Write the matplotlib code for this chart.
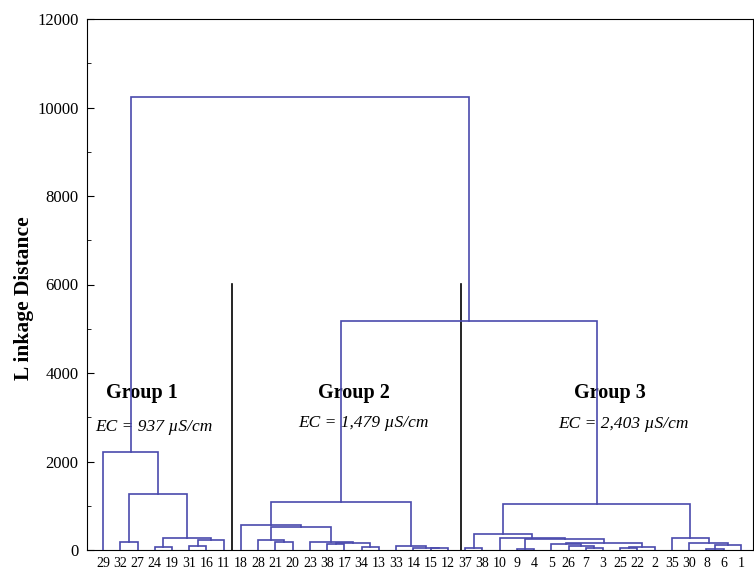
import matplotlib.pyplot as plt
from matplotlib.ticker import MultipleLocator

plt.rcParams['font.family'] = ['Liberation Serif', 'DejaVu Serif']

# leaf labels in the order they appear along the x axis
leaf_labels = ['29', '32', '27', '24', '19', '31', '16', '11',
               '18', '28', '21', '20', '23', '38', '17', '34', '13', '33', '14', '15', '12',
               '37', '38', '10', '9', '4', '5', '26', '7', '3', '25', '22', '2',
               '35', '30', '8', '6', '1']

# merges: (left, right, linkage distance)
# index < 38 -> leaf position, index >= 38 -> earlier merge (38 + k)
merges = [
    # group 1
    (3, 4, 75), (5, 6, 80), (39, 7, 226), (1, 2, 180), (38, 40, 264),
    (41, 42, 1275), (0, 43, 2210),
    # group 2
    (10, 11, 190), (9, 45, 215), (13, 14, 125), (15, 16, 60), (47, 48, 155),
    (12, 49, 190), (46, 50, 530), (8, 51, 565), (19, 20, 35), (18, 53, 55),
    (17, 54, 80), (52, 55, 1080),
    # group 3
    (21, 22, 50), (24, 25, 20), (28, 29, 50), (27, 59, 100), (26, 60, 125),
    (30, 31, 40), (62, 32, 70), (61, 63, 150), (58, 64, 255), (23, 65, 280),
    (57, 66, 355), (35, 36, 20), (68, 37, 115), (34, 69, 165), (33, 70, 280),
    (67, 71, 1050),
    # top
    (56, 72, 5180), (44, 73, 10240),
]

group_names = ['Group 1', 'Group 2', 'Group 3']
group_ec = ['EC = 937 µS/cm', 'EC = 1,479 µS/cm', 'EC = 2,403 µS/cm']
group_splits = [7.5, 20.75]
split_height = 6020

n = len(leaf_labels)
line_color = '#4a4aad'

fig = plt.figure(figsize=(7.54, 5.72), dpi=100)
ax = fig.add_axes([87 / 754, 1 - 550 / 572, (753 - 87) / 754, (550 - 19) / 572])

# node positions
xs = list(range(n))
hs = [0] * n
for a, b, h in merges:
    ax.plot([xs[a], xs[a], xs[b], xs[b]], [hs[a], h, h, hs[b]],
            color=line_color, lw=1.2, zorder=3, solid_joinstyle='miter')
    xs.append((xs[a] + xs[b]) / 2)
    hs.append(h)

# group dividers
for s in group_splits:
    ax.plot([s, s], [0, split_height], color='black', lw=1.2, zorder=2)

# group labels
group_x = [2.26, 14.56, 29.4]
ec_x = [2.96, 15.08, 30.16]
ec_y = [2780, 2870, 2850]
for gx, ex, ey, name, ec in zip(group_x, ec_x, ec_y, group_names, group_ec):
    ax.text(gx, 3550, name, ha='center', va='center', fontsize=14.5,
            fontweight='bold', zorder=1)
    ax.text(ex, ey, ec, ha='center', va='center', fontsize=12.5,
            style='italic', zorder=1)

ax.set_xlim(-0.93, 37.7)
ax.set_ylim(0, 12000)
ax.set_xticks(range(n))
ax.set_xticklabels(leaf_labels, fontsize=10)
ax.tick_params(axis='x', length=0, pad=5)
ax.yaxis.set_major_locator(MultipleLocator(2000))
ax.yaxis.set_minor_locator(MultipleLocator(1000))
ax.tick_params(axis='y', which='both', direction='in', labelsize=12, pad=6)
ax.tick_params(axis='y', which='major', length=5)
ax.tick_params(axis='y', which='minor', length=3)

fig.text(24 / 754, 1 - 298 / 572, 'L inkage Distance', rotation=90,
         ha='center', va='center', fontsize=15.5, fontweight='bold')

fig.savefig('out.png', dpi=100)
